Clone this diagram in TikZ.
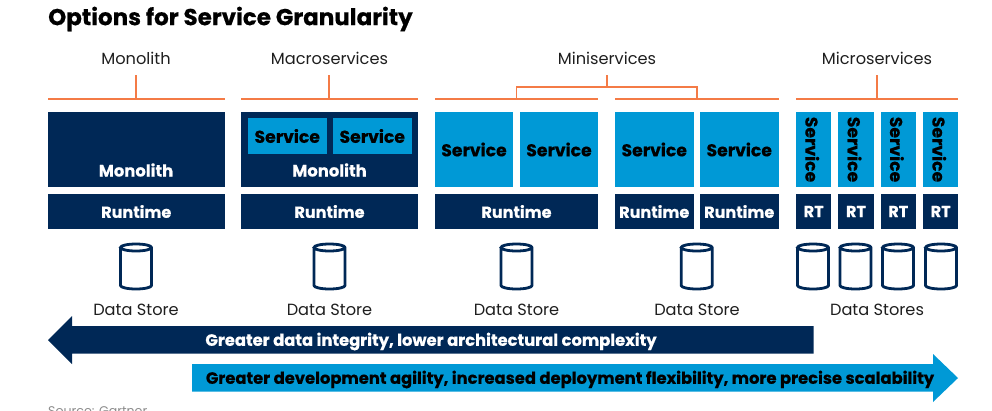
\documentclass[tikz,border=0pt]{standalone}
\usepackage{fontspec}
\setmainfont{Poppins}[BoldFeatures={FakeBold=0.5}]
\usetikzlibrary{calc}
\definecolor{navy}{HTML}{002856}
\definecolor{sky}{HTML}{0099D6}
\definecolor{org}{HTML}{F47B46}
\definecolor{ink}{HTML}{1E1E1E}
\tikzset{
  x=1pt,y=-1pt,
  box/.style={anchor=north west,inner sep=0pt,outer sep=0pt,minimum width=#1},
  navybox/.style={box=#1,fill=navy,minimum height=35pt},
  navytall/.style={box=#1,fill=navy,minimum height=75pt},
  skytall/.style={box=#1,fill=sky,minimum height=75pt},
  skyin/.style={box=#1,fill=sky,minimum height=36pt},
  wl/.style={text=white,font=\fontsize{16.4}{16}\selectfont\bfseries,inner sep=0pt},
  rl/.style={text=white,font=\fontsize{16}{16}\selectfont\bfseries,inner sep=0pt},
  kl/.style={text=black,font=\fontsize{17.2}{16}\selectfont\bfseries,inner sep=0pt},
  al/.style={font=\fontsize{16.35}{16}\selectfont\bfseries,inner sep=0pt},
  lbl/.style={text=ink,font=\fontsize{16.2}{16}\selectfont,inner sep=0pt},
  tick/.style={draw=org,line width=1.7pt},
  pics/dbcyl/.style={code={
    \draw[navy,line width=2.8pt,fill=white] (-15.5,-19.5) -- (-15.5,18.5) arc[start angle=180,end angle=360,x radius=15.5pt,y radius=3.5pt] -- (15.5,-19.5) arc[start angle=0,end angle=360,x radius=15.5pt,y radius=3.5pt];
  }}
}
\begin{document}
\begin{tikzpicture}
\useasboundingbox (0,0) rectangle (992,410);
\clip (0,0) rectangle (992,410);
\node[anchor=west,inner sep=0pt,font=\fontsize{23}{23}\selectfont\bfseries] (title) at (48,19) {Options for Service Granularity};
% top labels
\node[lbl] (lmono) at (136,58) {Monolith};
\node[lbl] (lmacro) at (329.5,58) {Macroservices};
\node[lbl] (lmini) at (607,58) {Miniservices};
\node[lbl] (lmicro) at (877,58) {Microservices};
% coordinates
\foreach \n/\a/\b in {mono/48/224.5,macro/241/418,minia/435/598,minib/615/778.5,micro/796/958}{
  \coordinate (\n L) at (\a,99);
  \coordinate (\n R) at (\b,99);
  \draw[tick] (\n L) -- (\n R);
}
\coordinate (tmono) at (136,75); \coordinate (jmono) at (136,99);
\coordinate (tmacro) at (329.2,75); \coordinate (jmacro) at (329.2,99);
\coordinate (tmicro) at (877,75); \coordinate (jmicro) at (877,99);
\coordinate (tmini) at (607,75); \coordinate (jmini) at (607,87);
\coordinate (ja) at (516.5,99); \coordinate (jb) at (697,99);
\draw[tick] (tmono) -- (jmono);
\draw[tick] (tmacro) -- (jmacro);
\draw[tick] (tmicro) -- (jmicro);
\draw[tick] (tmini) -- (jmini);
\draw[tick] (ja) |- (jmini) -| (jb);
% monolith
\node[navytall=176.5pt] (b1) at (48,112) {};
\node[wl] (t1) at (136,170) {Monolith};
\node[navybox=176.5pt] (r1) at (48,194) {};
\node[rl] at (r1.center) {Runtime};
% macro
\node[navytall=177pt] (b2) at (241,112) {};
\node[skyin=78.5pt] (s2a) at (248,118) {};
\node[skyin=78.5pt] (s2b) at (333,118) {};
\node[kl] at (s2a.center) {Service};
\node[kl] at (s2b.center) {Service};
\node[wl] (t2) at (329.5,170) {Monolith};
\node[navybox=177pt] (r2) at (241,194) {};
\node[rl] at (r2.center) {Runtime};
% mini a
\node[skytall=78pt] (s3a) at (435,112) {};
\node[skytall=78pt] (s3b) at (520,112) {};
\node[kl] at (s3a.center) {Service};
\node[kl] at (s3b.center) {Service};
\node[navybox=163pt] (r3) at (435,194) {};
\node[rl] at (r3.center) {Runtime};
% mini b
\node[skytall=78.5pt] (s4a) at (615,112) {};
\node[skytall=78.5pt] (s4b) at (700,112) {};
\node[kl] at (s4a.center) {Service};
\node[kl] at (s4b.center) {Service};
\node[navybox=78.5pt] (r4a) at (615,194) {};
\node[navybox=78.5pt] (r4b) at (700,194) {};
\node[rl] at (r4a.center) {Runtime};
\node[rl] at (r4b.center) {Runtime};
% micro
\foreach \i/\x in {a/796,b/838.3,c/880.6,d/923}{
  \node[skytall=35.3pt] (m\i) at (\x,112) {};
  \node[kl,rotate=-90] at ($(m\i.center)+(-1.4,0)$) {Service};
  \node[navybox=35.3pt] (rt\i) at (\x,194) {};
  \node[rl] at (rt\i.center) {RT};
}
% data stores
\foreach \n/\x in {d1/136,d2/329.5,d3/516.5,d4/696.7,d5/813,d6/855.5,d7/898,d8/941}{
  \pic (\n) at (\x,267) {dbcyl};
}
\node[lbl] (ds1) at (136,310) {Data Store};
\node[lbl] (ds2) at (329.5,310) {Data Store};
\node[lbl] (ds3) at (516.5,310) {Data Store};
\node[lbl] (ds4) at (697,310) {Data Store};
\node[lbl] (ds5) at (877,310) {Data Stores};
% arrows
\fill[navy] (48,340) -- (72,316) -- (72,326) -- (813.5,326) -- (813.5,353.5) -- (72,353.5) -- (72,364) -- cycle;
\node[al,text=white] (ta) at (431,341.5) {Greater data integrity, lower architectural complexity};
\fill[sky] (192,364) -- (933,364) -- (933,354) -- (958,378) -- (933,402) -- (933,391.5) -- (192,391.5) -- cycle;
\node[al,text=black] (tb) at (570,379.5) {Greater development agility, increased deployment flexibility, more precise scalability};
\node[anchor=base west,inner sep=0pt,text=black!45,font=\fontsize{12.6}{12}\selectfont] (src) at (48,415) {Source: Gartner};
\end{tikzpicture}
\end{document}
